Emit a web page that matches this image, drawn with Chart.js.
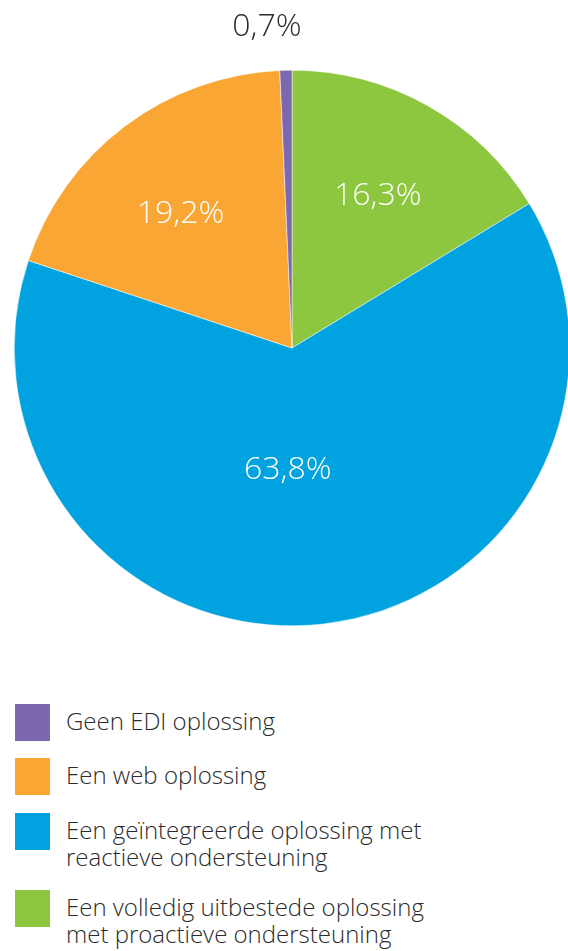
<!DOCTYPE html>
<html lang="nl">
<head>
<meta charset="utf-8" />
<title>EDI oplossingen</title>
<script src="https://cdn.jsdelivr.net/npm/chart.js@4.4.0/dist/chart.umd.min.js"></script>
<style>
    html, body { margin: 0; padding: 0; background: #fff; overflow: hidden; }
    body { width: 568px; height: 951px; position: relative; font-family: "Open Sans", "Noto Sans", sans-serif; }
    #wrap { position: absolute; left: 0; top: 0; width: 572px; height: 660px; }
    #legend { margin: 0; padding: 0; list-style: none; }
    #legend li { position: absolute; left: 15px; padding-left: 51px; font-size: 24px; font-weight: 300; color: #2b2b2b; line-height: 27px; white-space: nowrap; }
    #legend li span.box { position: absolute; left: 0; top: 0; width: 35px; height: 37px; }
</style>
</head>
<body>
<div id="wrap"><canvas id="pie"></canvas></div>
<ul id="legend"></ul>
<script>
    // legend order (top to bottom)
    const labels = [
        'Geen EDI oplossing',
        'Een web oplossing',
        'Een geïntegreerde oplossing met reactieve ondersteuning',
        'Een volledig uitbestede oplossing met proactieve ondersteuning'
    ];
    const legendLines = [
        ['Geen EDI oplossing'],
        ['Een web oplossing'],
        ['Een geïntegreerde oplossing met', 'reactieve ondersteuning'],
        ['Een volledig uitbestede oplossing', 'met proactieve ondersteuning']
    ];
    const values = [0.7, 19.2, 63.8, 16.3];
    const colors = ['#7b68ae', '#f9a635', '#00a3e0', '#8dc63f'];

    // slices run clockwise from 12 o'clock in reverse legend order
    const pieLabels = labels.slice().reverse();
    const pieValues = values.slice().reverse();
    const pieColors = colors.slice().reverse();

    const fmt = v => v.toFixed(1).replace('.', ',') + '%';

    // value labels: inside slices in white, the tiny slice gets its label above the pie
    const valueLabels = {
        id: 'valueLabels',
        afterDatasetsDraw(chart) {
            const ctx = chart.ctx;
            const meta = chart.getDatasetMeta(0);
            ctx.save();
            ctx.font = '300 32px "Open Sans", "Noto Sans", sans-serif';
            ctx.textAlign = 'center';
            ctx.textBaseline = 'middle';
            meta.data.forEach((arc, i) => {
                const v = pieValues[i];
                const mid = (arc.startAngle + arc.endAngle) / 2;
                let r = arc.outerRadius * 0.63, dx = 0, dy = 0;
                ctx.fillStyle = '#ffffff';
                if (v < 2) {
                    r = arc.outerRadius + 43;
                    ctx.fillStyle = '#2b2b2b';
                    dx = -18;
                } else if (v > 50) {
                    r = arc.outerRadius * 0.44;
                    dx = -18;
                } else if (Math.cos(mid) < 0) {
                    dx = -6;
                    dy = 5;
                }
                const x = arc.x + Math.cos(mid) * r + dx;
                const y = arc.y + Math.sin(mid) * r + dy;
                ctx.fillText(fmt(v), x, y);
            });
            ctx.restore();
        }
    };

    new Chart(document.getElementById('pie'), {
        type: 'pie',
        data: {
            labels: pieLabels,
            datasets: [{
                data: pieValues,
                backgroundColor: pieColors,
                borderColor: '#ffffff',
                borderWidth: 0.5
            }]
        },
        options: {
            responsive: true,
            maintainAspectRatio: false,
            animation: false,
            layout: { padding: { left: 14, right: 2, top: 70, bottom: 34 } },
            plugins: {
                legend: { display: false },
                tooltip: { enabled: false }
            }
        },
        plugins: [valueLabels]
    });

    // legend list below the chart
    const ul = document.getElementById('legend');
    const rowTops = [704, 758, 813, 890];
    legendLines.forEach((lines, i) => {
        const li = document.createElement('li');
        li.style.top = rowTops[i] + 'px';
        li.style.paddingTop = '3px';
        const box = document.createElement('span');
        box.className = 'box';
        box.style.background = colors[i];
        li.appendChild(box);
        lines.forEach((t, j) => {
            if (j) li.appendChild(document.createElement('br'));
            li.appendChild(document.createTextNode(t));
        });
        ul.appendChild(li);
    });
</script>
</body>
</html>
